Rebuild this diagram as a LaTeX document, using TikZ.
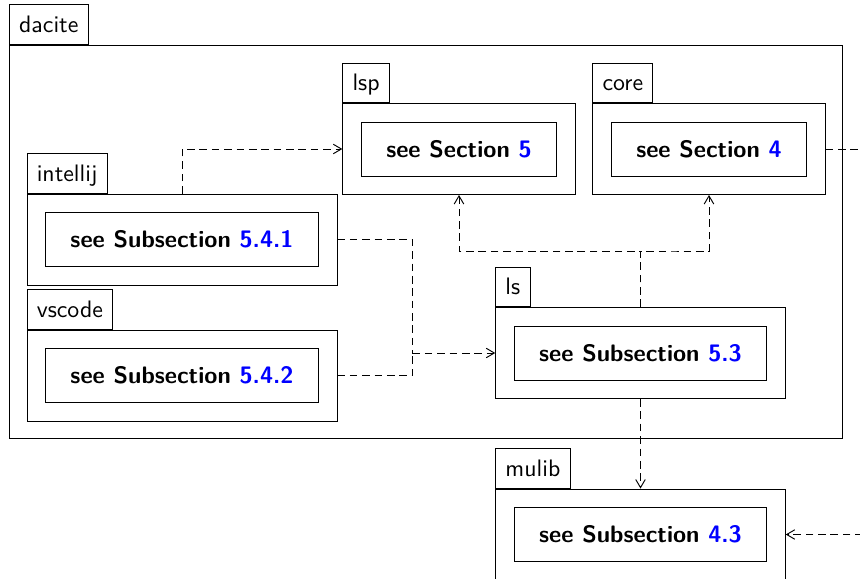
\documentclass[tikz,border=0pt]{standalone}
\usetikzlibrary{arrows.meta,calc,fit,positioning}
\renewcommand{\familydefault}{\sfdefault}
\tikzset{
  pkgtab/.style={draw, anchor=south west, inner xsep=4.1pt, inner ysep=0pt,
    minimum height=16.6pt, text height=7pt, text depth=0.2pt},
  pkgref/.style={draw, font=\bfseries, inner xsep=10.5pt, inner ysep=0pt,
    minimum height=22.7pt},
  pkgbody/.style={draw, inner sep=7.56pt},
  depline/.style={draw, dash pattern=on 3.2pt off 2pt},
  dep/.style={depline, -{Straight Barb[length=3.4pt,width=4pt]}},
}
\newcommand{\secref}[2]{see #1 \textcolor{blue}{#2}}
\begin{document}
\begin{tikzpicture}[x=0.42pt, y=-0.42pt]
\useasboundingbox (0,0) rectangle (860,579);
\clip (0,0) rectangle (860,579);
% inner packages
\node[pkgref] (lspref) at (459,149) {\secref{Section}{5}};
\node[pkgbody, fit=(lspref)] (lsp) {};
\node[pkgtab] (lsptab) at (lsp.north west) {lsp};
\node[pkgref] (coreref) at (709,149) {\secref{Section}{4}};
\node[pkgbody, fit=(coreref)] (core) {};
\node[pkgtab] (coretab) at (core.north west) {core};
\node[pkgref] (intellijref) at (182,239.5) {\secref{Subsection}{5.4.1}};
\node[pkgbody, fit=(intellijref)] (intellij) {};
\node[pkgtab] (intellijtab) at (intellij.north west) {intellij};
\node[pkgref] (vscoderef) at (182,375.5) {\secref{Subsection}{5.4.2}};
\node[pkgbody, fit=(vscoderef)] (vscode) {};
\node[pkgtab] (vscodetab) at (vscode.north west) {vscode};
\node[pkgref] (lsref) at (640.5,353) {\secref{Subsection}{5.3}};
\node[pkgbody, fit=(lsref)] (ls) {};
\node[pkgtab] (lstab) at (ls.north west) {ls};
% outer package
\node[pkgbody, inner sep=7.2pt, fit=(lsptab)(coretab)(core)(intellijtab)(vscode)(ls)] (dacite) {};
\node[pkgtab] (dacitetab) at (dacite.north west) {dacite};
\node[pkgref] (mulibref) at (640.5,534.5) {\secref{Subsection}{4.3}};
\node[pkgbody, fit=(mulibref)] (mulib) {};
\node[pkgtab] (mulibtab) at (mulib.north west) {mulib};
% free ends
\coordinate (lsjoin) at ($(intellij.east)+(75,0)$);
\coordinate (coreout) at (900,149);
\coordinate (mulibin) at (900,534.5);
% dependencies
\draw[dep] (intellij.north) |- (lsp.west);
\draw[depline] (intellij.east) -- (lsjoin) -- (lsjoin |- ls.west);
\draw[depline] (vscode.east) -| (lsjoin |- ls.west);
\draw[dep] (lsjoin |- ls.west) -- (ls.west);
\draw[dep] (ls.north) |- ($(ls.north)!0.5!(lsp.south)$) -| (lsp.south);
\draw[dep] (ls.north) |- ($(ls.north)!0.5!(core.south)$) -| (core.south);
\draw[dep] (ls.south) -- (mulib.north -| ls.south);
\draw[depline] (core.east) -- (coreout);
\draw[dep] (mulibin) -- (mulib.east);
\end{tikzpicture}
\end{document}
